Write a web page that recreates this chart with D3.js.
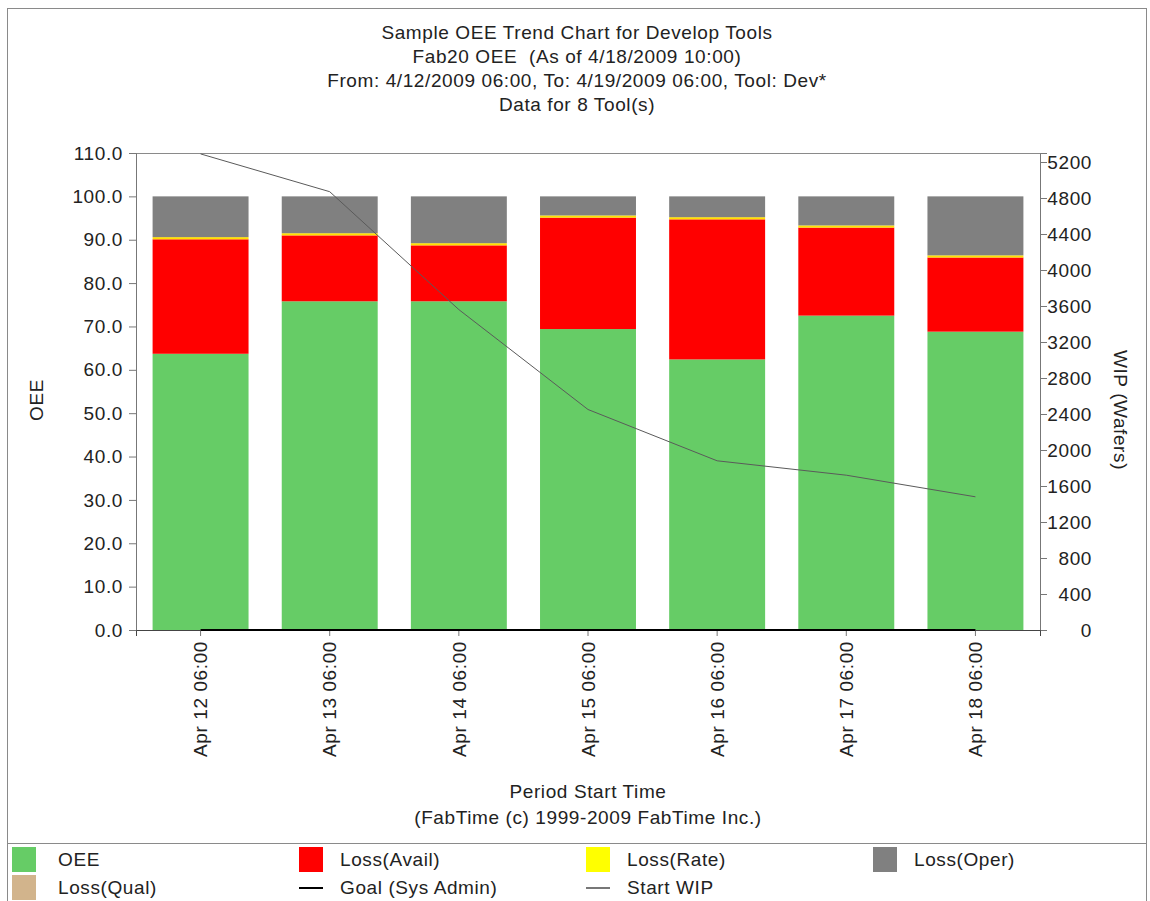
<!DOCTYPE html>
<html>
<head>
<meta charset="utf-8">
<script src="https://cdn.jsdelivr.net/npm/d3@7"></script>
<style>
  body { margin: 0; background: #fff; }
  svg text { font-family: "Liberation Sans", Arial, sans-serif; fill: #222; letter-spacing: 0.6px; }
</style>
</head>
<body>
<div id="chart"></div>
<script>
// chart values
var categories = ["Apr 12 06:00", "Apr 13 06:00", "Apr 14 06:00", "Apr 15 06:00",
                  "Apr 16 06:00", "Apr 17 06:00", "Apr 18 06:00"];
var oee       = [63.7, 75.8, 75.8, 69.4, 62.4, 72.5, 68.8];
var lossAvail = [26.4, 15.2, 12.9, 25.7, 32.3, 20.3, 17.1];
var lossRate  = [0.5, 0.5, 0.5, 0.5, 0.5, 0.5, 0.5];
var lossOper  = [9.4, 8.5, 10.8, 4.4, 4.8, 6.7, 13.6];
var lossQual  = [0, 0, 0, 0, 0, 0, 0];
var goal      = [0, 0, 0, 0, 0, 0, 0];
var startWip  = [5290, 4870, 3560, 2450, 1880, 1720, 1480];
var oeeTicks  = [0, 10, 20, 30, 40, 50, 60, 70, 80, 90, 100, 110];
var wipTicks  = [0, 400, 800, 1200, 1600, 2000, 2400, 2800, 3200, 3600, 4000, 4400, 4800, 5200];
var titles = ["Sample OEE Trend Chart for Develop Tools",
              "Fab20 OEE  (As of 4/18/2009 10:00)",
              "From: 4/12/2009 06:00, To: 4/19/2009 06:00, Tool: Dev*",
              "Data for 8 Tool(s)"];

function init() {
	var w = 1150, h = 901;
	var left = 136, right = 1040, top = 153, bottom = 630;
	var fs = "19px";

	var keys = ["OEE", "Loss(Avail)", "Loss(Rate)", "Loss(Oper)", "Loss(Qual)"];
	var colors = {"OEE": "#66cc66", "Loss(Avail)": "#ff0000", "Loss(Rate)": "#ffe000",
	              "Loss(Oper)": "#808080", "Loss(Qual)": "#d2b48c"};
	var rows = categories.map(function(c, i) {
		return {cat: c, "OEE": oee[i], "Loss(Avail)": lossAvail[i], "Loss(Rate)": lossRate[i],
		        "Loss(Oper)": lossOper[i], "Loss(Qual)": lossQual[i]};
	});
	var series = d3.stack().keys(keys)(rows);

	var xScale = d3.scaleBand().domain(categories).range([left, right])
		.paddingInner(0.257).paddingOuter(0.1285);
	var yScale = d3.scaleLinear().domain([0, 110]).range([bottom, top]);
	var wScale = d3.scaleLinear().domain([0, 5300]).range([bottom, top]);

	var svg = d3.select("#chart").append("svg")
		.attr("width", w).attr("height", h);

	// outer frame and legend separator
	svg.append("rect").attr("x", 7.5).attr("y", 8.5).attr("width", 1139).attr("height", 900)
		.attr("fill", "none").attr("stroke", "#8a8a8a");
	svg.append("line").attr("x1", 7).attr("x2", 1147).attr("y1", 843.5).attr("y2", 843.5)
		.attr("stroke", "#8a8a8a");

	// titles
	svg.selectAll(".title").data(titles).enter().append("text")
		.attr("class", "title")
		.attr("x", 577).attr("y", function(d, i) { return 39 + i * 24; })
		.attr("text-anchor", "middle").style("font-size", fs)
		.attr("xml:space", "preserve")
		.text(function(d) { return d; });

	// plot frame
	svg.append("rect").attr("x", left + 0.5).attr("y", top + 0.5)
		.attr("width", right - left).attr("height", bottom - top)
		.attr("fill", "none").attr("stroke", "#8a8a8a");

	// stacked bars
	svg.append("g").selectAll("g").data(series).enter().append("g")
		.attr("fill", function(d) { return colors[d.key]; })
		.selectAll("rect").data(function(d) { return d; }).enter().append("rect")
		.attr("x", function(d) { return xScale(d.data.cat); })
		.attr("width", xScale.bandwidth())
		.attr("y", function(d) { return yScale(d[1]); })
		.attr("height", function(d) { return yScale(d[0]) - yScale(d[1]); });

	// axes
	var yAxis = d3.axisLeft(yScale).tickValues(oeeTicks).tickSize(7).tickPadding(6)
		.tickFormat(d3.format(".1f"));
	var gy = svg.append("g").attr("transform", "translate(" + left + ",0)").call(yAxis);
	var wAxis = d3.axisRight(wScale).tickValues(wipTicks).tickSize(7).tickPadding(4)
		.tickFormat(d3.format("d"));
	var gw = svg.append("g").attr("transform", "translate(" + right + ",0)").call(wAxis);
	var xAxis = d3.axisBottom(xScale).tickSize(6).tickFormat("");
	var gx = svg.append("g").attr("transform", "translate(0," + bottom + ")").call(xAxis);

	[gy, gw, gx].forEach(function(g) {
		g.select(".domain").attr("stroke", "#777");
		g.selectAll(".tick line").attr("stroke", "#777");
		g.selectAll(".tick text").style("font-size", fs).attr("fill", "#222")
			.style("font-family", "'Liberation Sans', Arial, sans-serif");
	});
	gx.select(".domain").attr("stroke", "#444");
	// right axis labels are right-aligned in the original
	gw.selectAll(".tick text").attr("text-anchor", "end").attr("x", 52);

	// rotated category labels
	svg.append("g").selectAll("text").data(categories).enter().append("text")
		.attr("transform", function(d) {
			return "translate(" + (xScale(d) + xScale.bandwidth() / 2) + ",641) rotate(-90)";
		})
		.attr("text-anchor", "end").attr("dy", "0.35em").style("font-size", fs)
		.text(function(d) { return d; });

	// goal line
	var cx = function(d, i) { return xScale(categories[i]) + xScale.bandwidth() / 2; };
	svg.append("path").datum(goal)
		.attr("d", d3.line().x(cx).y(function(d) { return yScale(d); }))
		.attr("fill", "none").attr("stroke", "#000").attr("stroke-width", 2);

	// start WIP line
	svg.append("path").datum(startWip)
		.attr("d", d3.line().x(cx).y(function(d) { return wScale(d); }))
		.attr("fill", "none").attr("stroke", "#5a5a5a").attr("stroke-width", 1);

	// axis titles
	svg.append("text").attr("transform", "translate(43,400) rotate(-90)")
		.attr("text-anchor", "middle").style("font-size", fs).text("OEE");
	svg.append("text").attr("transform", "translate(1114,410) rotate(90)")
		.attr("text-anchor", "middle").style("font-size", fs).text("WIP (Wafers)");
	svg.append("text").attr("x", 588).attr("y", 798).attr("text-anchor", "middle")
		.style("font-size", fs).text("Period Start Time");
	svg.append("text").attr("x", 588).attr("y", 824).attr("text-anchor", "middle")
		.style("font-size", fs).text("(FabTime (c) 1999-2009 FabTime Inc.)");

	// legend
	var legend = [
		{name: "OEE", type: "box", color: colors["OEE"]},
		{name: "Loss(Avail)", type: "box", color: colors["Loss(Avail)"]},
		{name: "Loss(Rate)", type: "box", color: "#ffff00"},
		{name: "Loss(Oper)", type: "box", color: colors["Loss(Oper)"]},
		{name: "Loss(Qual)", type: "box", color: colors["Loss(Qual)"]},
		{name: "Goal (Sys Admin)", type: "line", color: "#000"},
		{name: "Start WIP", type: "line", color: "#777"}
	];
	var lg = svg.append("g").selectAll("g").data(legend).enter().append("g")
		.attr("transform", function(d, i) {
			return "translate(" + (12 + (i % 4) * 287) + "," + (847 + Math.floor(i / 4) * 28) + ")";
		});
	lg.filter(function(d) { return d.type === "box"; }).append("rect")
		.attr("width", 24).attr("height", 25).attr("fill", function(d) { return d.color; });
	lg.filter(function(d) { return d.type === "line"; }).append("rect")
		.attr("y", 12).attr("width", 24).attr("height", 2).attr("fill", function(d) { return d.color; });
	lg.append("text").attr("x", function(d, i) { return i % 4 === 0 ? 46 : 41; })
		.attr("y", 19).style("font-size", fs)
		.text(function(d) { return d.name; });
}

window.onload = init;
</script>
</body>
</html>
